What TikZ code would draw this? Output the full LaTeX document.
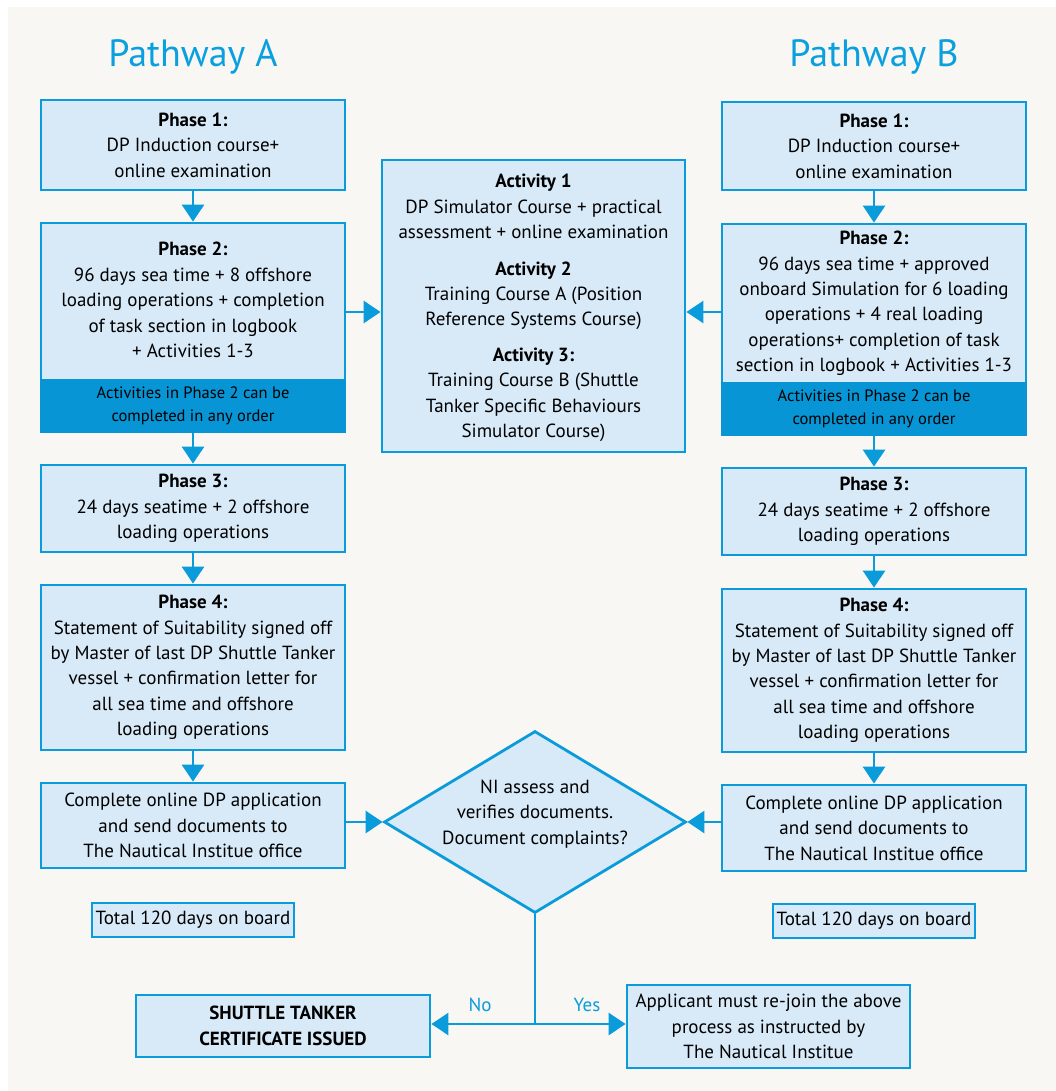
\documentclass[tikz,border=0pt]{standalone}
\usepackage{fontspec}
\setmainfont{PT Sans}
\usetikzlibrary{arrows.meta,shapes.geometric,calc}
\definecolor{cy}{HTML}{0A9BDA}
\definecolor{ttl}{HTML}{0AA0E0}
\definecolor{boxfill}{HTML}{D8EAF8}
\definecolor{bar}{HTML}{0895D6}
\definecolor{bg}{HTML}{F8F7F3}
\tikzset{
  box/.style={draw=cy, fill=boxfill, line width=2.8pt, inner sep=0pt, align=center,
    font=\fontsize{19}{25.4}\selectfont},
  barbox/.style={draw=bar, fill=bar, line width=2.8pt, inner sep=0pt, align=center,
    font=\fontsize{16.5}{23}\selectfont},
  txt/.style={inner sep=0pt, align=center, font=\fontsize{19}{25.4}\selectfont},
  title/.style={text=ttl, font=\fontsize{38}{44}\selectfont, inner sep=0pt},
  lbl/.style={text=cy, font=\fontsize{19}{22}\selectfont, inner sep=0pt},
  arr/.style={draw=cy, line width=2.8pt, -{Triangle[width=22pt,length=17pt]}},
  ln/.style={draw=cy, line width=2.8pt},
}
\begin{document}
\begin{tikzpicture}[x=1pt,y=-1pt]
\useasboundingbox (0,0) rectangle (1056,1091);
\fill[white] (0,0) rectangle (1056,1091);
\fill[bg] (8,7) rectangle (1056,1091);

% titles
\node[title] (tA) at (193,57) {Pathway A};
\node[title] (tB) at (874,57) {Pathway B};

% left column
\node[box, minimum width=304, minimum height=90] (LP1) at (193,145)
  {\textbf{Phase 1:}\\DP Induction course+\\online examination};
\node[box, minimum width=304, minimum height=209] (LP2) at (193,327.5) {};
\node[barbox, minimum width=304, minimum height=52] (LB) at (193,406)
  {Activities in Phase 2 can be\\completed in any order};
\node[txt] (LP2t) at (193,300)
  {\textbf{Phase 2:}\\96 days sea time + 8 offshore\\loading operations + completion\\of task section in logbook\\+ Activities 1-3};
\node[box, minimum width=304, minimum height=87] (LP3) at (193,508.5)
  {\textbf{Phase 3:}\\24 days seatime + 2 offshore\\loading operations};
\node[box, minimum width=304, minimum height=165] (LP4) at (193,667.5)
  {\textbf{Phase 4:}\\Statement of Suitability signed off\\by Master of last DP Shuttle Tanker\\vessel + confirmation letter for\\all sea time and offshore\\loading operations};
\node[box, minimum width=304, minimum height=85] (LC) at (193,825.5)
  {Complete online DP application\\and send documents to\\The Nautical Institue office};
\node[box, minimum width=202, minimum height=34, line width=2.2pt] (LT) at (193,920)
  {Total 120 days on board};

% right column
\node[box, minimum width=304, minimum height=88] (RP1) at (874,146)
  {\textbf{Phase 1:}\\DP Induction course+\\online examination};
\node[box, minimum width=304, minimum height=211] (RP2) at (874,329.5) {};
\node[barbox, minimum width=304, minimum height=52] (RB) at (874,409)
  {Activities in Phase 2 can be\\completed in any order};
\node[txt] (RP2t) at (874,303.5)
  {\textbf{Phase 2:}\\96 days sea time + approved\\onboard Simulation for 6 loading\\operations + 4 real loading\\operations+ completion of task\\section in logbook + Activities 1-3};
\node[box, minimum width=304, minimum height=87] (RP3) at (874,511.5)
  {\textbf{Phase 3:}\\24 days seatime + 2 offshore\\loading operations};
\node[box, minimum width=304, minimum height=163] (RP4) at (874,670.5)
  {\textbf{Phase 4:}\\Statement of Suitability signed off\\by Master of last DP Shuttle Tanker\\vessel + confirmation letter for\\all sea time and offshore\\loading operations};
\node[box, minimum width=304, minimum height=86] (RC) at (874,828)
  {Complete online DP application\\and send documents to\\The Nautical Institue office};
\node[box, minimum width=202, minimum height=34, line width=2.2pt] (RT) at (874,921)
  {Total 120 days on board};

% activity box
\node[box, minimum width=303, minimum height=292] (ACT) at (533.5,306) {};
\node[txt] (ACTt) at (533.5,308)
  {\textbf{Activity 1}\\DP Simulator Course + practical\\assessment + online examination\\[11pt]
   \textbf{Activity 2}\\Training Course A (Position\\Reference Systems Course)\\[10pt]
   \textbf{Activity 3:}\\Training Course B (Shuttle\\Tanker Specific Behaviours\\Simulator Course)};

% diamond
\node[diamond, draw=cy, fill=boxfill, line width=2.8pt, inner sep=0pt,
      minimum width=302, minimum height=182] (D) at (535,822) {};
\node[txt] (Dt) at (535,814) {NI assess and\\verifies documents.\\Document complaints?};

% bottom boxes
\node[box, minimum width=294, minimum height=62] (CERT) at (283,1026)
  {\textbf{SHUTTLE TANKER}\\\textbf{CERTIFICATE ISSUED}};
\node[box, minimum width=283, minimum height=83] (APP) at (768.5,1026.5)
  {Applicant must re-join the above\\process as instructed by\\The Nautical Institue};

% connectors, left column
\draw[arr] (LP1) -- (LP2);
\draw[arr] (LB) -- (LP3);
\draw[arr] (LP3) -- (LP4);
\draw[arr] (LP4) -- (LC);
% right column
\draw[arr] (RP1) -- (RP2);
\draw[arr] (RB) -- (RP3);
\draw[arr] (RP3) -- (RP4);
\draw[arr] (RP4) -- (RC);
% into activity box
\coordinate (aw) at ([yshift=-6pt]ACT.west);
\coordinate (ae) at ([yshift=-6pt]ACT.east);
\draw[arr] (LP2.east |- aw) -- (aw);
\draw[arr] (RP2.west |- ae) -- (ae);
% into diamond
\draw[arr] (LC.east |- D.west) -- (D.west);
\draw[arr] (RC.west |- D.east) -- (D.east);
% bottom
\coordinate (J) at (D.south |- 0,1024);
\draw[ln] (D.south) -- (J);
\draw[arr] (J) -- (CERT.east |- J);
\draw[arr] (J) -- (APP.west |- J);
\node[lbl] (no) at (480,1005) {No};
\node[lbl] (yes) at (587,1005) {Yes};
\end{tikzpicture}
\end{document}
